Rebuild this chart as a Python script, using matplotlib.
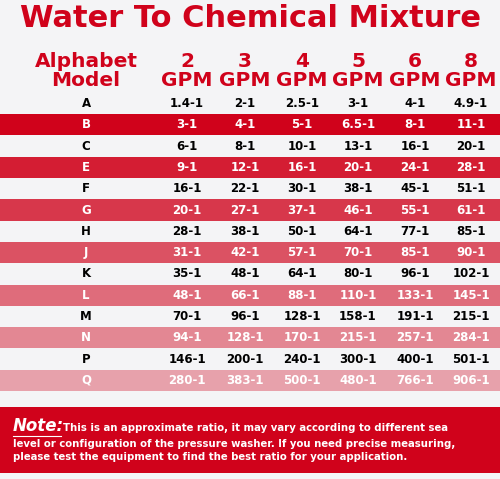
import matplotlib
matplotlib.use("Agg")
import matplotlib.pyplot as plt
from matplotlib.patches import Rectangle

models = ["A","B","C","E","F","G","H","J","K","L","M","N","P","Q"]
gpm = ["2","3","4","5","6","8"]
ratios = [
 ["1.4-1","2-1","2.5-1","3-1","4-1","4.9-1"],
 ["3-1","4-1","5-1","6.5-1","8-1","11-1"],
 ["6-1","8-1","10-1","13-1","16-1","20-1"],
 ["9-1","12-1","16-1","20-1","24-1","28-1"],
 ["16-1","22-1","30-1","38-1","45-1","51-1"],
 ["20-1","27-1","37-1","46-1","55-1","61-1"],
 ["28-1","38-1","50-1","64-1","77-1","85-1"],
 ["31-1","42-1","57-1","70-1","85-1","90-1"],
 ["35-1","48-1","64-1","80-1","96-1","102-1"],
 ["48-1","66-1","88-1","110-1","133-1","145-1"],
 ["70-1","96-1","128-1","158-1","191-1","215-1"],
 ["94-1","128-1","170-1","215-1","257-1","284-1"],
 ["146-1","200-1","240-1","300-1","400-1","501-1"],
 ["280-1","383-1","500-1","480-1","766-1","906-1"],
]
note_lines = ["This is an approximate ratio, it may vary according to different sea",
              "level or configuration of the pressure washer. If you need precise measuring,",
              "please test the equipment to find the best ratio for your application."]

RED = "#d0021b"
fig = plt.figure(figsize=(5, 4.79), dpi=100)
ax = fig.add_axes([0, 0, 1, 1])
ax.set_xlim(0, 500); ax.set_ylim(479, 0); ax.axis("off")
ax.add_patch(Rectangle((0, 0), 500, 479, color="#f4f4f6", zorder=0))

ax.text(250, 18, "Water To Chemical Mixture", ha="center", va="center",
        fontsize=22, fontweight="heavy", color=RED, family="DejaVu Sans")

colx = [187, 245, 302, 358, 415, 471]
ax.text(86, 71, "Alphabet\nModel", ha="center", va="center", fontsize=14.5,
        fontweight="bold", color=RED, linespacing=1.0)
for x, g in zip(colx, gpm):
    ax.text(x, 71, g + "\nGPM", ha="center", va="center", fontsize=14.5,
            fontweight="bold", color=RED, linespacing=1.0)

y0, dy = 103.5, 21.3
band_idx = 0
for i, (m, row) in enumerate(zip(models, ratios)):
    y = y0 + i * dy
    if i % 2 == 1:
        a = 1.0 - band_idx * 0.11
        ax.add_patch(Rectangle((0, y - dy / 2), 500, dy, color=RED, alpha=a, lw=0, zorder=1))
        band_idx += 1
        tc = "white"
    else:
        tc = "black"
    ax.text(86, y, m, ha="center", va="center", fontsize=8.5, fontweight="bold", color=tc, zorder=3)
    for x, v in zip(colx, row):
        ax.text(x, y, v, ha="center", va="center", fontsize=8.5, fontweight="bold", color=tc, zorder=3)

ax.add_patch(Rectangle((0, 407), 500, 66, color=RED, lw=0, zorder=1))
ax.text(13, 426, "Note:", ha="left", va="center", fontsize=12, fontweight="heavy",
        style="italic", color="white", zorder=3)
ax.plot([13, 61], [436, 436], color="white", lw=0.8, zorder=3)
ax.text(63, 428, note_lines[0], ha="left", va="center", fontsize=7.3,
        fontweight="bold", color="white", zorder=3)
ax.text(13, 444, note_lines[1], ha="left", va="center", fontsize=7.3,
        fontweight="bold", color="white", zorder=3)
ax.text(13, 457.5, note_lines[2], ha="left", va="center", fontsize=7.3,
        fontweight="bold", color="white", zorder=3)
fig.savefig("out.png", dpi=100)
